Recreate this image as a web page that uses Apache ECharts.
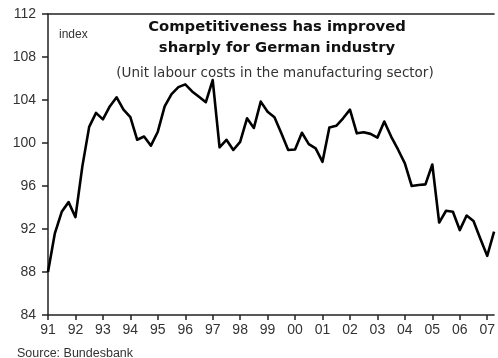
<!DOCTYPE html>
<html>
<head>
<meta charset="utf-8">
<script src="https://cdn.jsdelivr.net/npm/echarts@6/dist/echarts.min.js"></script>
<style>
  html, body { margin: 0; padding: 0; background: #ffffff; }
  #chart { width: 498px; height: 358px; }
</style>
</head>
<body>
<div id="chart"></div>
<script>
// Year labels shown on the time axis (one tick per year, quarterly data)
const yearLabels = ['91','92','93','94','95','96','97','98','99','00','01','02','03','04','05','06','07'];
const quarters = ['Q1','Q2','Q3','Q4'];

// Unit labour costs in manufacturing, index, quarterly 1991 Q1 - 2007 Q2
const unitLabourCosts = [
  88.0, 91.6, 93.6, 94.5,
  93.1, 97.8, 101.5, 102.8,
  102.2, 103.4, 104.25, 103.1,
  102.4, 100.3, 100.6, 99.75,
  101.05, 103.4, 104.55, 105.2,
  105.45, 104.8, 104.3, 103.8,
  105.85, 99.6, 100.3, 99.35,
  100.1, 102.3, 101.4, 103.85,
  102.9, 102.4, 100.9, 99.35,
  99.4, 100.95, 99.9, 99.5,
  98.25, 101.45, 101.6, 102.3,
  103.1, 100.9, 101.0, 100.85,
  100.5, 102.0, 100.6, 99.4,
  98.1, 96.0, 96.1, 96.15,
  98.0, 92.6, 93.7, 93.6,
  91.9, 93.25, 92.75, 91.1,
  89.5, 91.75
];

// Quarter categories matching the series length
const categories = [];
for (let i = 0; i < unitLabourCosts.length; i++) {
  categories.push(yearLabels[Math.floor(i / 4)] + ' ' + quarters[i % 4]);
}

const font = '"Liberation Sans", Arial, sans-serif';
const headFont = '"DejaVu Sans", Verdana, sans-serif';
const axisColor = '#222222';
const textColor = '#333333';

const chart = echarts.init(document.getElementById('chart'), null, { renderer: 'canvas' });
chart.setOption({
  animation: false,
  backgroundColor: '#ffffff',
  grid: { left: 48, right: 3, top: 14, bottom: 43, containLabel: false },
  title: [
    {
      text: 'Competitiveness has improved\nsharply for German industry',
      left: 272, top: 12, textAlign: 'center',
      textStyle: { fontFamily: headFont, fontSize: 14.8, fontWeight: 'bold', color: '#111111', lineHeight: 20.5 }
    },
    {
      text: '(Unit labour costs in the manufacturing sector)',
      left: 270, top: 61, textAlign: 'center',
      textStyle: { fontFamily: headFont, fontSize: 13.5, fontWeight: 'normal', color: textColor }
    },
    {
      text: 'index',
      left: 54, top: 24,
      textStyle: { fontFamily: font, fontSize: 12, fontWeight: 'normal', color: textColor }
    },
    {
      text: 'Source: Bundesbank',
      left: 12, top: 342,
      textStyle: { fontFamily: font, fontSize: 12.5, fontWeight: 'normal', color: textColor }
    }
  ],
  xAxis: [
    {
      type: 'category',
      data: categories,
      boundaryGap: false,
      axisLine: { lineStyle: { color: axisColor, width: 1.5 } },
      axisTick: { show: true, interval: 3, length: 5, lineStyle: { color: axisColor, width: 1.5 } },
      axisLabel: {
        interval: 3,
        margin: 8,
        fontFamily: font, fontSize: 14, color: textColor,
        formatter: function (v) { return v.split(' ')[0]; }
      },
      splitLine: { show: false }
    },
    {
      type: 'category',
      position: 'top',
      data: categories,
      boundaryGap: false,
      axisLine: { lineStyle: { color: axisColor, width: 1.5 } },
      axisTick: { show: false },
      axisLabel: { show: false }
    }
  ],
  yAxis: {
    type: 'value',
    min: 84, max: 112, interval: 4,
    axisLine: { show: true, lineStyle: { color: axisColor, width: 1.5 } },
    axisTick: { show: true, length: 6, lineStyle: { color: axisColor, width: 1.5 } },
    axisLabel: { margin: 12, fontFamily: font, fontSize: 14, color: textColor },
    splitLine: { show: false }
  },
  series: [
    {
      type: 'line',
      data: unitLabourCosts,
      showSymbol: false,
      lineStyle: { color: '#000000', width: 2.6, join: 'round' }
    }
  ]
});
</script>
</body>
</html>
